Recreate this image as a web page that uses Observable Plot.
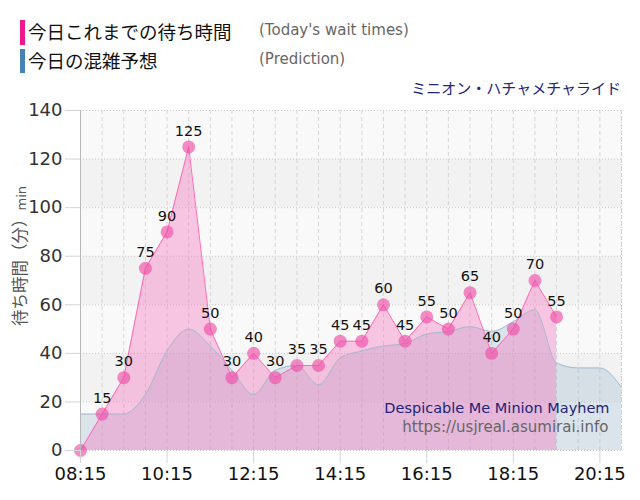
<!DOCTYPE html>
<html>
<head>
<meta charset="utf-8">
<script src="https://cdn.jsdelivr.net/npm/d3@7"></script>
<script src="https://cdn.jsdelivr.net/npm/@observablehq/plot@0.6"></script>
<style>
  body { margin: 0; background: #fff; }
  #wrap { position: relative; width: 640px; height: 500px; overflow: hidden; font-family: "DejaVu Sans", sans-serif; }
  #head { position: relative; width: 640px; height: 80px; }
  .abs { position: absolute; white-space: nowrap; line-height: 1; }
  .sw { position: absolute; width: 5px; }
  .jp { font-family: "Noto Sans CJK JP", sans-serif; color: #111; font-size: 18.5px; }
  .en { font-family: "DejaVu Sans", sans-serif; color: #666; font-size: 15px; }
  #ride { font-family: "Noto Sans CJK JP", sans-serif; color: #232378; font-size: 15px; right: 19px; top: 80px; z-index: 2; }
  #chart svg { display: block; }
</style>
</head>
<body>
<div id="wrap">
  <div id="head">
    <div class="sw" style="left:20px; top:20px; height:25px; background:#f0168c;"></div>
    <div class="abs jp" style="left:28px; top:22px;">今日これまでの待ち時間</div>
    <div class="abs en" style="left:259px; top:23px;">(Today's wait times)</div>
    <div class="sw" style="left:20px; top:49px; height:24px; background:#4682b4;"></div>
    <div class="abs jp" style="left:28px; top:51px;">今日の混雑予想</div>
    <div class="abs en" style="left:259px; top:52px;">(Prediction)</div>
  </div>
  <div class="abs" id="ride">ミニオン・ハチャメチャライド</div>
  <div id="chart"></div>
</div>
<script>
// Today's posted wait times (minutes), every 30 minutes
const actualTimes = ["08:15","08:45","09:15","09:45","10:15","10:45","11:15","11:45","12:15","12:45","13:15","13:45",
                     "14:15","14:45","15:15","15:45","16:15","16:45","17:15","17:45","18:15","18:45","19:15"];
const waits = [0,15,30,75,90,125,50,30,40,30,35,35,45,45,60,45,55,50,65,40,50,70,55];

// Predicted congestion for the whole day (minutes)
const predTimes = ["08:15","08:45","09:15","09:45","10:15","10:45","11:15","11:45","12:15","12:45","13:15","13:45",
                   "14:15","14:45","15:15","15:45","16:15","16:45","17:15","17:45","18:15","18:45","19:15","19:45",
                   "20:15","20:45"];
const pred = [15,15,15,23,41,50,43,33,23,33,35,27,38,41,43,44,48,49,51,49,53,58,36,34,34,26];

// Axis ticks
const xTickLabels = ["08:15","10:15","12:15","14:15","16:15","18:15","20:15"];
const yTicks = [0,20,40,60,80,100,120,140];
const rideName = "Despicable Me Minion Mayhem";
const siteUrl = "https://usjreal.asumirai.info";

const toH = s => { const [h, m] = s.split(":").map(Number); return h + m / 60; };
const fmt = h => {
  const hh = Math.floor(h + 1e-9), mm = Math.round((h - hh) * 60);
  return String(hh).padStart(2, "0") + ":" + String(mm).padStart(2, "0");
};

const actual = actualTimes.map((t, i) => ({x: toH(t), y: waits[i]}));
const forecast = predTimes.map((t, i) => ({x: toH(t), y: pred[i]}));
const x0 = toH(predTimes[0]), x1 = toH(predTimes[predTimes.length - 1]);
const gridX = predTimes.map(toH);
const bands = yTicks.slice(0, -1).map((v, i) => ({y1: v, y2: yTicks[i + 1], odd: i % 2 === 1}));

const chart = Plot.plot({
  width: 640,
  height: 420,
  marginTop: 30,
  marginBottom: 50,
  marginLeft: 80,
  marginRight: 19,
  style: {fontFamily: "DejaVu Sans, sans-serif", background: "transparent", overflow: "visible"},
  x: {type: "linear", domain: [x0, x1]},
  y: {domain: [0, 140]},
  marks: [
    // alternating horizontal bands
    Plot.rectY(bands, {y1: "y1", y2: "y2", fill: d => d.odd ? "#f2f2f2" : "#f9f9f9"}),
    // half-hour grid
    Plot.ruleX(gridX, {stroke: "#d6d6d6", strokeDasharray: "4,3"}),
    Plot.ruleY(yTicks, {stroke: "#c8c8c8", strokeDasharray: "1,2"}),
    Plot.ruleX([x1], {stroke: "#c8c8c8", strokeDasharray: "1,2"}),
    // prediction area
    Plot.areaY(forecast, {x: "x", y: "y", curve: "monotone-x", fill: "rgb(130,165,195)", fillOpacity: 0.25}),
    // today's wait times area
    Plot.areaY(actual, {x: "x", y: "y", fill: "rgb(245,120,190)", fillOpacity: 0.4}),
    Plot.lineY(forecast, {x: "x", y: "y", curve: "monotone-x", stroke: "#a5bad0", strokeWidth: 1}),
    Plot.lineY(actual, {x: "x", y: "y", stroke: "#ff6ab5", strokeWidth: 1}),
    Plot.dot(actual, {x: "x", y: "y", r: 6.5, fill: "#ee4ea8", fillOpacity: 0.65}),
    Plot.text(actual.filter(d => d.y > 0), {x: "x", y: "y", text: d => String(d.y), dy: -16, fontSize: 14.5, fill: "#111"}),
    // left axis line
    Plot.ruleX([x0], {stroke: "#b8b8b8"}),
    Plot.axisX({ticks: xTickLabels.map(toH), tickFormat: fmt, tickSize: 13, tickPadding: 4,
                fontSize: 18, stroke: "#d4d4d4", fill: "#111", label: null}),
    Plot.axisY({ticks: yTicks, tickSize: 15, tickPadding: 3, fontSize: 18,
                stroke: "#d4d4d4", fill: "#333", label: null}),
    // watermark
    Plot.text([rideName], {frameAnchor: "bottom-right", text: d => d, dx: -12, dy: -37.5,
                           textAnchor: "end", fontSize: 14.5, fill: "#232378"}),
    Plot.text([siteUrl], {frameAnchor: "bottom-right", text: d => d, dx: -13, dy: -19,
                          textAnchor: "end", fontSize: 15, fill: "#666"})
  ]
});

// rotated y-axis title
const svg = d3.select(chart);
const yl = svg.append("text")
  .attr("transform", "translate(26,176) rotate(-90)")
  .attr("text-anchor", "middle")
  .attr("fill", "#555")
  .style("font-family", "'Noto Sans CJK JP', sans-serif")
  .style("font-size", "16.5px");
yl.append("tspan").text("待ち時間（分）");
yl.append("tspan").style("font-size", "13px").style("font-family", "'DejaVu Sans', sans-serif").text("min");

document.getElementById("chart").appendChild(chart);
</script>
</body>
</html>
